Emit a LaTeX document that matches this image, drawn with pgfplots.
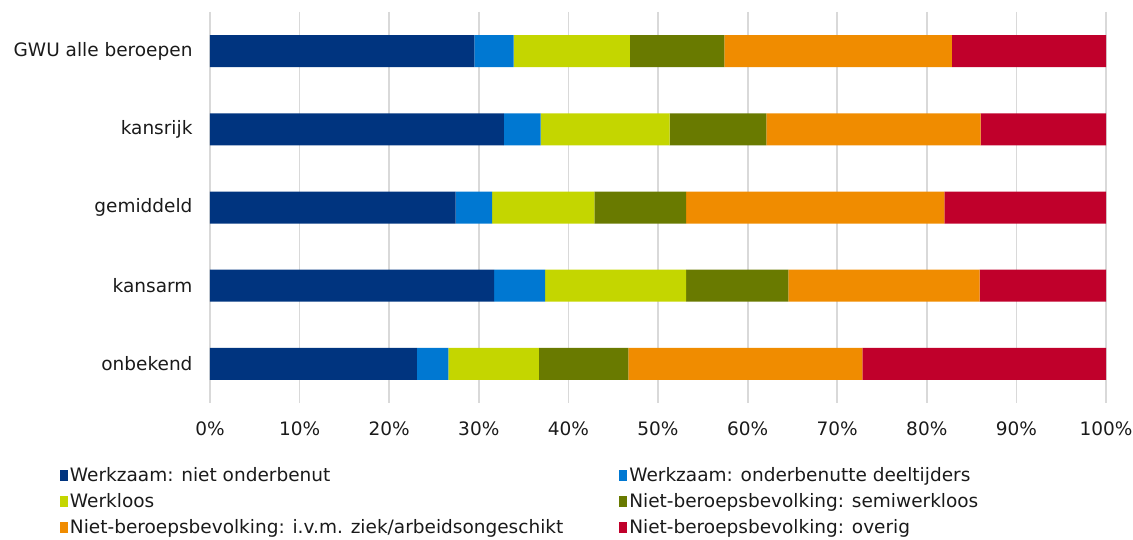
\documentclass[border=0pt]{standalone}
\usepackage{pgfplots}
\pgfplotsset{compat=1.18}
\usepackage{fontspec}
\setmainfont{DejaVu Sans}
\definecolor{c1}{HTML}{00347F}
\definecolor{c2}{HTML}{0078D2}
\definecolor{c3}{HTML}{C4D600}
\definecolor{c4}{HTML}{697A00}
\definecolor{c5}{HTML}{F08C00}
\definecolor{c6}{HTML}{C0002B}
\definecolor{txt}{HTML}{1A1A1A}
\begin{document}
\begin{tikzpicture}[font=\fontsize{18.5}{22}\selectfont, text=txt]
\begin{axis}[
  at={(0pt,0pt)}, anchor=south west,
  xbar stacked,
  scale only axis,
  width=896pt, height=391pt,
  xmin=0, xmax=100, ymin=-0.5, ymax=4.5,
  y dir=reverse,
  ytick={0,1,2,3,4},
  yticklabels={GWU alle beroepen, kansrijk, gemiddeld, kansarm, onbekend},
  xtick={0,10,...,100},
  xticklabel={\pgfmathprintnumber{\tick}\%},
  /pgf/number format/assume math mode=true,
  axis line style={draw=none},
  major tick length=0pt,
  xmajorgrids,
  grid style={draw=black!15, line width=1.8pt},
  bar width=32pt,
  yticklabel style={xshift=-14pt},
  xticklabel style={yshift=-15pt},
  legend style={draw=none, fill=none, at={(-0.171,-0.153)}, anchor=north west,
    legend columns=2, row sep=6.5pt,
    /tikz/every even column/.append style={column sep=54pt},
    font=\fontsize{18.5}{22}\selectfont},
  legend cell align=left,
  legend image code/.code={\fill[#1,draw=none] (0pt,-6pt) rectangle (8pt,5pt);},
]
\addplot[fill=c1, draw=none] coordinates {(29.5,0) (32.8,1) (27.4,2) (31.7,3) (23.1,4)};
\addplot[fill=c2, draw=none] coordinates {(4.4,0) (4.1,1) (4.1,2) (5.7,3) (3.5,4)};
\addplot[fill=c3, draw=none] coordinates {(12.95,0) (14.4,1) (11.4,2) (15.75,3) (10.1,4)};
\addplot[fill=c4, draw=none] coordinates {(10.55,0) (10.8,1) (10.25,2) (11.4,3) (10.0,4)};
\addplot[fill=c5, draw=none] coordinates {(25.4,0) (23.9,1) (28.8,2) (21.35,3) (26.1,4)};
\addplot[fill=c6, draw=none] coordinates {(17.2,0) (14.0,1) (18.05,2) (14.1,3) (27.2,4)};
\legend{Werkzaam: niet onderbenut, Werkzaam: onderbenutte deeltijders, Werkloos, Niet-beroepsbevolking: semiwerkloos, Niet-beroepsbevolking: i.v.m. ziek/arbeidsongeschikt, Niet-beroepsbevolking: overig}
\end{axis}
\pgfresetboundingbox
\path[use as bounding box] (-210pt,-137pt) rectangle (923pt,403pt);
\end{tikzpicture}
\end{document}
